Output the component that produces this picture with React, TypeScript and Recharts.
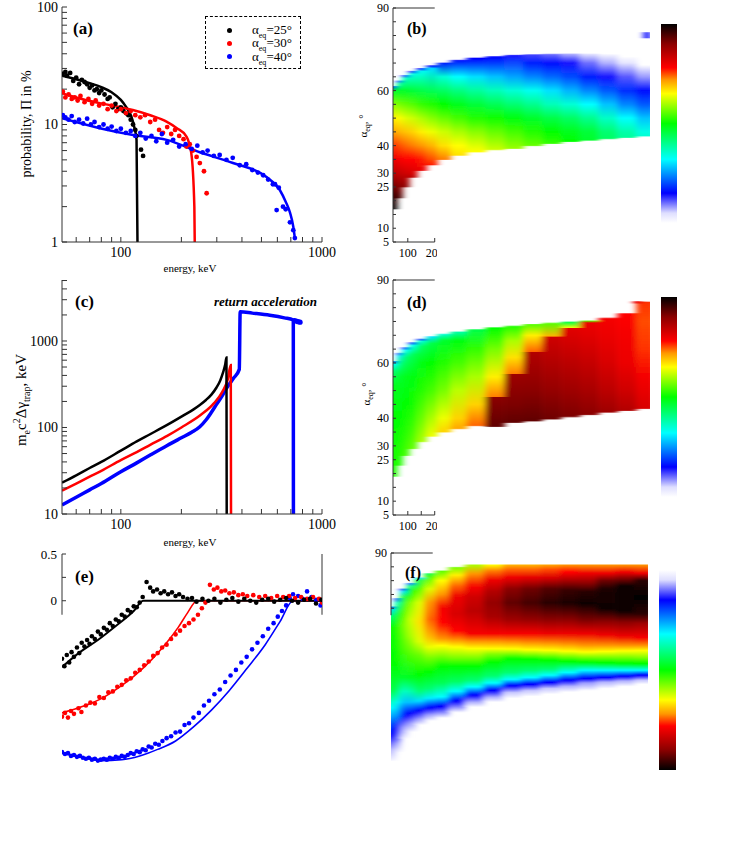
import React from "react";
import {
  ComposedChart,
  Line,
  Scatter,
  XAxis,
  YAxis,
  ReferenceArea,
  ReferenceLine,
} from "recharts";

const FONT = '"Liberation Serif", "Times New Roman", serif';
const AXIS = "#333";

// ---------- panel (a): probability vs energy ----------
const aBlackDots = [
  [51.5, 27], [53, 28], [54, 26], [56, 27.5], [58, 23.5], [60, 25], [62, 22], [64, 24], [66, 23], [68, 22],
  [70, 20.5], [72, 21.5], [74, 19.5], [76, 20], [78, 18.5], [80, 19.5], [83, 18], [86, 16.5], [88, 17],
  [91, 14], [94, 15], [97, 13.5], [100, 14], [103, 13], [106, 12.5], [109, 12], [112, 11], [115, 10],
  [118, 9], [119.5, 8], [126, 6.1], [129, 5.4],
];
const aRedDots = [
  [51.5, 19], [53, 17], [55, 18], [57, 16.5], [59, 17], [61, 16], [63, 17.5], [66, 15.5], [69, 16.5],
  [72, 15], [75, 16], [78, 14.5], [82, 15], [86, 13.5], [90, 14.5], [95, 13], [100, 13.5], [106, 12.5],
  [112, 13], [118, 12], [125, 11.5], [132, 12], [140, 10.5], [148, 11], [155, 9], [162, 8.5], [170, 9.5],
  [178, 8.3], [186, 9], [195, 8], [205, 7.5], [212, 6.5], [220, 6.8], [228, 6], [238, 5.3], [247, 4.7],
  [259, 4.0], [267, 2.6],
];
const aBlueDots = [
  [51.5, 12], [53, 11.5], [55, 11], [57, 11.8], [59, 10.5], [62, 11], [65, 10.2], [68, 11.2], [71, 10],
  [74, 10.5], [78, 9.5], [82, 10], [86, 9.2], [90, 9.6], [95, 8.8], [100, 9.2], [106, 8.5], [112, 8.8],
  [118, 8], [125, 8.5], [133, 7.6], [142, 8], [150, 7.2], [160, 8.3], [170, 7], [182, 7.4], [195, 6.5],
  [210, 6.8], [225, 6.2], [240, 6.6], [255, 5.8], [270, 6], [290, 5.4], [310, 5.5], [335, 5], [360, 5.2],
  [390, 4.5], [420, 4.6], [450, 4.1], [480, 3.9], [510, 3.7], [540, 3.4], [570, 3.1], [584, 3.1],
  [595, 1.87], [610, 2.9], [640, 2.0], [660, 1.9], [693, 1.47], [720, 1.26], [733, 1.08],
];
const aBlackLine = [
  [51, 26], [60, 24.3], [70, 22.5], [80, 20.8], [90, 18.8], [100, 16.2], [106, 14.2], [113, 11.6],
  [117, 9.3], [119.7, 7.4], [121, 1],
];
const aRedLine = [
  [51, 18.5], [60, 17], [78.6, 15.2], [100, 14], [114.7, 13.3], [140, 12], [168.7, 10.6], [190, 9.3],
  [212, 7.9], [224, 5.7], [232, 2], [233, 1],
];
const aBlueLine = [
  [51, 11.3], [78.6, 9.3], [115, 8.15], [169, 7.4], [247, 5.8], [361, 4.7], [530, 3.57], [617, 2.77],
  [660, 2.2], [694, 1.77], [720, 1.35], [733, 1.08],
];

// ---------- panel (c): trapping energy gain ----------
const cBlackLine = [
  [51, 23], [60, 28], [70, 34], [80, 40], [100, 54], [120, 69], [139, 83], [170, 107], [204, 137],
  [230, 162], [247, 182], [265, 208], [282, 240], [299, 290], [312, 350], [322, 430], [330, 530],
  [335, 646], [336, 10],
];
const cRedLine = [
  [51, 18.6], [60, 22.5], [70, 27], [80, 31.5], [100, 42], [120, 52], [140, 63], [170, 80], [200, 100],
  [250, 140], [290, 190], [320, 260], [340, 360], [352, 527], [353, 10],
];
const cBlueLine = [
  [51, 12.7], [60, 15.6], [70, 19], [80, 22.5], [100, 30.8], [120, 39], [140, 48], [170, 62], [200, 76],
  [225, 88], [247, 102], [265, 122], [282, 150], [299, 185], [320, 235], [335, 284], [363, 370],
  [388, 470], [392, 2180], [450, 2100], [550, 1980], [650, 1850], [720, 1750], [721, 10],
];
const cBlueTail = [[730, 1720], [745, 1700], [760, 1670], [778, 1650]];

// ---------- panel (e) ----------
const eBlackDots = [
  [0, -0.62], [8, -0.7], [16, -0.58], [24, -0.66], [32, -0.55], [40, -0.6], [50, -0.5], [58, -0.56],
  [66, -0.45], [75, -0.49], [84, -0.42], [92, -0.46], [100, -0.38], [110, -0.41], [120, -0.33],
  [130, -0.36], [140, -0.29], [150, -0.31], [160, -0.24], [170, -0.27], [180, -0.2], [190, -0.22],
  [200, -0.15], [210, -0.17], [220, -0.1], [230, -0.12], [240, -0.06], [250, -0.07], [260, -0.02],
  [270, 0.04], [283, 0.2], [295, 0.14], [305, 0.1], [318, 0.12], [330, 0.08], [342, 0.1], [355, 0.07],
  [368, 0.09], [380, 0.05], [392, 0.07], [405, 0.04], [420, 0.02], [435, 0.03], [450, -0.01],
  [470, 0.02], [490, 0], [510, 0.02], [530, -0.02], [550, 0.01], [570, 0.03], [590, -0.01], [610, 0.02],
  [630, 0], [650, -0.02], [670, 0.01], [690, 0.02], [710, -0.01], [730, 0.01], [750, 0.03], [770, 0],
  [790, -0.02], [810, 0.01], [830, 0.02], [850, -0.03], [868, 0.01],
];
const eRedDots = [
  [0, -1.24], [10, -1.2], [20, -1.25], [30, -1.18], [40, -1.21], [55, -1.15], [65, -1.19], [80, -1.12],
  [95, -1.09], [110, -1.1], [125, -1.03], [140, -1.04], [155, -0.98], [170, -0.97], [185, -0.92],
  [200, -0.9], [215, -0.85], [230, -0.83], [245, -0.77], [260, -0.74], [275, -0.69], [290, -0.65],
  [305, -0.59], [320, -0.56], [335, -0.5], [350, -0.47], [365, -0.41], [380, -0.36], [395, -0.32],
  [410, -0.27], [425, -0.24], [440, -0.2], [455, -0.15], [468, -0.08], [480, -0.02], [495, 0.17],
  [508, 0.12], [520, 0.14], [533, 0.1], [546, 0.11], [560, 0.08], [575, 0.09], [590, 0.06], [605, 0.07],
  [620, 0.05], [640, 0.06], [660, 0.04], [680, 0.05], [700, 0.03], [720, 0.05], [740, 0.04], [760, 0.05],
  [780, 0.03], [800, 0.04], [820, 0.02], [840, 0.04], [860, 0.02], [870, -0.02],
];
const eBlueDots = [
  [0, -1.62], [10, -1.64], [20, -1.63], [30, -1.66], [40, -1.65], [50, -1.67], [60, -1.66], [70, -1.68],
  [80, -1.69], [90, -1.68], [100, -1.7], [110, -1.69], [120, -1.71], [130, -1.7], [140, -1.69],
  [150, -1.7], [160, -1.68], [170, -1.69], [180, -1.67], [190, -1.68], [200, -1.66], [210, -1.67],
  [220, -1.65], [230, -1.63], [240, -1.64], [250, -1.61], [260, -1.62], [270, -1.59], [280, -1.6],
  [290, -1.56], [300, -1.57], [312, -1.53], [324, -1.54], [336, -1.5], [350, -1.47], [365, -1.45],
  [380, -1.41], [395, -1.4], [410, -1.33], [425, -1.31], [440, -1.25], [458, -1.2], [475, -1.12],
  [492, -1.07], [510, -1.0], [528, -0.95], [546, -0.87], [564, -0.8], [582, -0.74], [600, -0.66],
  [618, -0.6], [636, -0.52], [654, -0.45], [672, -0.38], [690, -0.3], [708, -0.24], [722, -0.17],
  [736, -0.11], [750, -0.05], [762, 0.03], [773, 0.07], [790, 0.05], [805, 0.02], [820, 0.1],
  [835, 0.04], [850, 0.01], [865, -0.05],
];
const eBlackLine = [[0, -0.71], [60, -0.55], [120, -0.42], [180, -0.27], [240, -0.11], [272, 0], [870, 0]];
const eRedLine = [
  [0, -1.2], [70, -1.13], [130, -1.05], [190, -0.93], [240, -0.81], [300, -0.63], [350, -0.45],
  [390, -0.28], [420, -0.13], [452, 0], [870, 0],
];
const eBlueLine = [
  [0, -1.63], [60, -1.67], [130, -1.71], [200, -1.7], [260, -1.66], [320, -1.59], [380, -1.5],
  [440, -1.35], [500, -1.17], [560, -0.96], [620, -0.72], [680, -0.47], [730, -0.22], [773, 0], [870, 0],
];

// ---------- heatmaps: column edges (keV) and per-column [angle, colour level] stops ----------
const hmEdges = [45, 60, 80, 105, 135, 170, 210, 260, 320, 390, 460, 530, 600, 670, 740, 810, 880, 950, 1000];

const bStops = [
  [[17, 1], [20, 0.97], [25, 0.92], [30, 0.85], [35, 0.8], [40, 0.76], [45, 0.71], [50, 0.66], [55, 0.58], [60, 0.47], [61.5, 0.18]],
  [[21, 0.95], [25, 0.9], [30, 0.84], [35, 0.79], [40, 0.75], [45, 0.7], [50, 0.65], [55, 0.57], [60, 0.47], [62.5, 0.38], [63.5, 0.16]],
  [[25, 0.9], [30, 0.83], [35, 0.78], [40, 0.74], [45, 0.69], [50, 0.63], [55, 0.56], [60, 0.47], [64.5, 0.36], [65.5, 0.15]],
  [[28.5, 0.85], [30, 0.82], [35, 0.78], [40, 0.73], [45, 0.68], [50, 0.62], [55, 0.55], [60, 0.46], [66, 0.34], [67, 0.15]],
  [[31, 0.8], [35, 0.77], [40, 0.72], [45, 0.66], [50, 0.6], [55, 0.53], [60, 0.45], [67, 0.33], [68, 0.15]],
  [[33, 0.77], [35, 0.75], [40, 0.7], [45, 0.64], [50, 0.58], [55, 0.52], [60, 0.44], [68, 0.3], [69, 0.15]],
  [[35, 0.73], [40, 0.67], [45, 0.62], [50, 0.56], [55, 0.5], [60, 0.43], [65, 0.35], [70, 0.17]],
  [[36.5, 0.67], [40, 0.65], [45, 0.6], [50, 0.54], [55, 0.48], [60, 0.41], [65, 0.32], [71, 0.16]],
  [[37.7, 0.65], [40, 0.63], [45, 0.58], [50, 0.52], [55, 0.46], [60, 0.39], [65, 0.3], [71.8, 0.15]],
  [[38.5, 0.62], [45, 0.56], [50, 0.51], [55, 0.44], [60, 0.37], [65, 0.28], [72.3, 0.15]],
  [[39, 0.59], [45, 0.54], [50, 0.49], [55, 0.42], [60, 0.35], [65, 0.26], [72.8, 0.14]],
  [[40, 0.56], [45, 0.52], [50, 0.47], [55, 0.4], [60, 0.33], [65, 0.24], [70, 0.17], [73, 0.12]],
  [[40.8, 0.53], [45, 0.5], [50, 0.45], [55, 0.37], [60, 0.3], [65, 0.22], [70, 0.16], [73.2, 0.1]],
  [[41.5, 0.5], [45, 0.48], [50, 0.43], [55, 0.35], [60, 0.27], [65, 0.2], [70, 0.14], [73.3, 0.07]],
  [[42, 0.47], [45, 0.46], [50, 0.4], [55, 0.32], [60, 0.24], [65, 0.17], [70, 0.1], [73.3, 0.04]],
  [[42.5, 0.43], [45, 0.42], [50, 0.36], [55, 0.28], [60, 0.21], [65, 0.14], [70, 0.07], [73, 0.02]],
  [[43, 0.39], [45, 0.38], [50, 0.32], [55, 0.24], [60, 0.18], [65, 0.11], [70, 0.04], [72, 0.01]],
  [[43.5, 0.35], [45, 0.34], [50, 0.28], [55, 0.21], [60, 0.16], [65, 0.08], [69, 0.01]],
];
const bSpots = [[977, 1000, 79, 81.2, 0.15]];

const dStops = [
  [[19, 0.52], [40, 0.5], [52, 0.48], [57, 0.42], [59.5, 0.32], [60.5, 0.16]],
  [[23, 0.52], [40, 0.5], [55, 0.47], [60, 0.4], [62.5, 0.3], [63.5, 0.16]],
  [[26.5, 0.54], [35, 0.52], [45, 0.5], [55, 0.48], [62, 0.42], [64.5, 0.32], [65.5, 0.16]],
  [[29, 0.56], [35, 0.54], [45, 0.51], [55, 0.49], [63, 0.44], [66.3, 0.33], [67.3, 0.17]],
  [[31.5, 0.6], [40, 0.56], [50, 0.52], [60, 0.49], [66, 0.43], [67.8, 0.35], [68.6, 0.17]],
  [[33.5, 0.64], [40, 0.6], [50, 0.54], [60, 0.5], [67, 0.45], [69.5, 0.3]],
  [[35, 0.68], [40, 0.64], [50, 0.57], [60, 0.52], [68, 0.47], [70.4, 0.35]],
  [[36.2, 0.71], [40, 0.68], [50, 0.61], [60, 0.54], [68, 0.49], [71.2, 0.38]],
  [[37.3, 0.74], [45, 0.68], [55, 0.6], [65, 0.53], [72, 0.45]],
  [[37, 0.93], [47.5, 0.9], [47.6, 0.73], [55, 0.66], [65, 0.57], [72.7, 0.5]],
  [[38.5, 0.93], [45, 0.91], [56, 0.88], [56.1, 0.73], [62, 0.67], [68, 0.6], [73.3, 0.52]],
  [[39, 0.93], [50, 0.9], [64, 0.86], [64.1, 0.74], [70, 0.66], [73.9, 0.55]],
  [[39.7, 0.92], [50, 0.89], [60, 0.86], [69.5, 0.83], [69.6, 0.7], [74.4, 0.55]],
  [[40.5, 0.91], [50, 0.88], [60, 0.85], [72.5, 0.81], [72.6, 0.65], [74.8, 0.45]],
  [[41.3, 0.9], [50, 0.87], [60, 0.84], [70, 0.81], [74.5, 0.8], [75.2, 0.55]],
  [[42.2, 0.88], [50, 0.85], [60, 0.82], [70, 0.8], [76.2, 0.79]],
  [[42.8, 0.86], [50, 0.83], [60, 0.8], [70, 0.79], [77.8, 0.78]],
  [[43.5, 0.82], [55, 0.79], [65, 0.76], [75, 0.75], [82, 0.76]],
];
const dSpots = [[937, 970, 81.5, 82.3, 0.8]];

const fStops = [
  [[15, 0.02], [19, 0.07], [24, 0.15], [28, 0.2], [34, 0.32], [40, 0.45], [50, 0.5], [63, 0.5], [67, 0.42], [69.5, 0.3], [70.5, 0.16]],
  [[18, 0.02], [21, 0.07], [26, 0.15], [31, 0.25], [36, 0.33], [41, 0.44], [48, 0.5], [62, 0.52], [68, 0.47], [72, 0.36], [73.5, 0.16]],
  [[23, 0.02], [27, 0.08], [31, 0.15], [36, 0.28], [40, 0.36], [45, 0.47], [55, 0.54], [64, 0.57], [70, 0.53], [74, 0.45], [76, 0.3], [77, 0.16]],
  [[25.5, 0.02], [28.5, 0.08], [32, 0.15], [36, 0.28], [40, 0.38], [45, 0.48], [52, 0.54], [60, 0.6], [66, 0.62], [72, 0.58], [76, 0.5], [78, 0.4], [79, 0.22]],
  [[28, 0.02], [30, 0.08], [33, 0.15], [36.5, 0.3], [40, 0.42], [46, 0.5], [53, 0.56], [58, 0.63], [65, 0.67], [72, 0.63], [77, 0.55], [80, 0.45], [81, 0.3]],
  [[29.5, 0.02], [31.5, 0.08], [34, 0.15], [37.5, 0.31], [41, 0.42], [47, 0.5], [52, 0.57], [56, 0.64], [60, 0.7], [66, 0.74], [72, 0.72], [77, 0.63], [81, 0.55], [82.5, 0.45]],
  [[30.5, 0.02], [32, 0.08], [34.5, 0.15], [38, 0.32], [43, 0.44], [49, 0.5], [52.5, 0.57], [56.5, 0.65], [59, 0.72], [65, 0.78], [70, 0.79], [75, 0.72], [80, 0.65], [83.5, 0.55]],
  [[32.5, 0.02], [34, 0.08], [36.5, 0.15], [40, 0.32], [43.5, 0.43], [49, 0.5], [52, 0.57], [56, 0.65], [58.5, 0.72], [62, 0.78], [68, 0.82], [74, 0.8], [78, 0.74], [82, 0.66], [84.8, 0.57]],
  [[34.5, 0.02], [36, 0.07], [38.6, 0.15], [41.6, 0.32], [44, 0.42], [49, 0.5], [52, 0.57], [55.5, 0.65], [58, 0.72], [61, 0.79], [69, 0.85], [74, 0.83], [77.6, 0.79], [82.5, 0.72], [85.7, 0.6]],
  [[36.3, 0.02], [37.8, 0.07], [40.3, 0.15], [43, 0.32], [45.5, 0.42], [50.5, 0.5], [53.5, 0.58], [55.4, 0.65], [58, 0.72], [61, 0.79], [67, 0.87], [72, 0.89], [76, 0.86], [80, 0.8], [83.5, 0.73], [85.7, 0.65]],
  [[37.8, 0.02], [39.5, 0.06], [42, 0.15], [44.3, 0.32], [46.8, 0.42], [51.7, 0.5], [55.3, 0.65], [57.8, 0.72], [61, 0.79], [66, 0.88], [72, 0.93], [77, 0.9], [81, 0.8], [84, 0.74], [85.7, 0.7]],
  [[38.5, 0.02], [40.2, 0.06], [42.5, 0.15], [45, 0.32], [47.5, 0.42], [51.5, 0.5], [55, 0.65], [57.5, 0.72], [61, 0.79], [66, 0.89], [72, 0.95], [77, 0.92], [81, 0.81], [84, 0.74], [85.7, 0.7]],
  [[39.3, 0.02], [41, 0.06], [43.2, 0.15], [45.8, 0.32], [48, 0.42], [51.2, 0.5], [54.8, 0.65], [57.3, 0.72], [61, 0.8], [66, 0.9], [72, 0.97], [77, 0.94], [81, 0.82], [84, 0.75], [85.7, 0.71]],
  [[40, 0.02], [41.8, 0.07], [44, 0.15], [46.8, 0.32], [49, 0.42], [50.8, 0.5], [54.5, 0.65], [57, 0.72], [61, 0.8], [66, 0.9], [72, 0.98], [76.5, 0.96], [80, 0.87], [83, 0.78], [85.7, 0.72]],
  [[40.5, 0.02], [43, 0.08], [44.6, 0.15], [47.6, 0.32], [50.5, 0.5], [54.2, 0.65], [56.6, 0.72], [61, 0.8], [65.7, 0.91], [71.8, 0.99], [76, 0.97], [79, 0.9], [82.6, 0.8], [85.7, 0.72]],
  [[41.3, 0.02], [43.3, 0.07], [45, 0.15], [47.6, 0.32], [50.3, 0.5], [54.4, 0.65], [56.6, 0.72], [60.5, 0.8], [65.3, 0.9], [70, 0.99], [77, 0.98], [80, 0.92], [82.6, 0.8], [85.7, 0.72]],
  [[42, 0.02], [43.7, 0.07], [45.4, 0.15], [47.6, 0.32], [50.1, 0.5], [52.5, 0.58], [54.6, 0.65], [56.5, 0.72], [60, 0.8], [65, 0.9], [69, 0.99], [78, 0.99], [81, 0.9], [83, 0.8], [85.7, 0.72]],
  [[42.8, 0.02], [44, 0.06], [45.8, 0.15], [47.6, 0.32], [50, 0.5], [52.3, 0.58], [54.7, 0.65], [56.5, 0.72], [59.5, 0.79], [64.6, 0.88], [68, 0.97], [74, 1], [80, 0.97], [82.6, 0.8], [85.7, 0.72]],
];

// ---------- ticks ----------
const logXTicks = [60, 70, 80, 90, 100, 200, 300, 400, 500, 600, 700, 800, 900, 1000];
const aYTicks = [1, 2, 3, 4, 5, 6, 7, 8, 9, 10, 20, 30, 40, 50, 60, 70, 80, 90, 100];
const cYTicks = [10, 20, 30, 40, 50, 60, 70, 80, 90, 100, 200, 300, 400, 500, 600, 700, 800, 900, 1000, 2000, 3000, 4000, 5000];
const eTopTicks = [100, 200, 300, 400, 500, 600, 700, 800];
const eYTicks = [0, 0.25, 0.5];
const hmYTicks = [5, 10, 15, 20, 25, 30, 35, 40, 45, 50, 55, 60, 65, 70, 75, 80, 85, 90];
const hmYLabels = [5, 10, 25, 30, 40, 60, 90];
const hmXLabels = [100, 200];

// jet-like colour scale: white -> blue -> cyan -> green -> yellow -> red -> black
const CMAP: [number, number[]][] = [
  [0, [255, 255, 255]],
  [0.05, [222, 222, 255]],
  [0.15, [0, 0, 255]],
  [0.32, [0, 255, 255]],
  [0.5, [0, 255, 0]],
  [0.65, [255, 255, 0]],
  [0.72, [255, 150, 0]],
  [0.78, [255, 0, 0]],
  [0.9, [139, 0, 0]],
  [1, [0, 0, 0]],
];

function cmap(t: number) {
  for (let i = 1; i < CMAP.length; i++) {
    if (t <= CMAP[i][0]) {
      const [t0, c0] = CMAP[i - 1];
      const [t1, c1] = CMAP[i];
      const f = (t - t0) / (t1 - t0);
      return `rgb(${c0.map((c, k) => Math.round(c + (c1[k] - c) * f)).join(",")})`;
    }
  }
  return "rgb(0,0,0)";
}

const pts = (arr: number[][]) => arr.map(([x, y]) => ({ x, y }));
const decade = (v: number) => ([1, 10, 100, 1000].includes(v) ? String(v) : "");
const tickStyle = { fill: "#000", fontSize: 14, fontFamily: FONT };
const hmTickStyle = { fill: "#000", fontSize: 12, fontFamily: FONT };

const dot = (color: string, r = 2.4) => (p: any) => <circle cx={p.cx} cy={p.cy} r={r} fill={color} />;

// x tick label clipped at the edge of the cut-off axis frame
function CutTick(props: any) {
  const { x, y, payload, limit } = props;
  if (!hmXLabels.includes(payload.value)) return <g />;
  return (
    <svg x={0} y={y - 2} width={limit} height={18} overflow="hidden">
      <text x={x} y={2} dy="0.8em" textAnchor="middle" fill="#000" fontSize={12} fontFamily={FONT}>
        {payload.value}
      </text>
    </svg>
  );
}

// layer "cells" draws the coloured columns (blurred sideways by the page), layer "axes" the partial frame
function Heatmap({
  layer,
  id,
  stops,
  spots = [],
  width,
  height,
  margin,
  bottomTicks,
  topTicks,
  showBottom,
  leftFrom,
  yTicks,
  yLabels,
}: any) {
  const cells = layer === "cells";
  const last = stops.length - 1;
  return (
    <ComposedChart width={width} height={height} margin={margin}>
      {cells && (
        <defs>
          {stops.map((col: number[][], i: number) => {
            const lo = col[0][0];
            const hi = col[col.length - 1][0];
            return (
              <linearGradient key={i} id={`${id}${i}`} x1="0" y1="0" x2="0" y2="1">
                {col
                  .slice()
                  .reverse()
                  .map(([a, t], j) => (
                    <stop key={j} offset={(hi - a) / (hi - lo)} stopColor={cmap(t)} />
                  ))}
              </linearGradient>
            );
          })}
        </defs>
      )}
      <XAxis
        dataKey="x"
        type="number"
        domain={[45, 1000]}
        allowDataOverflow
        hide={!showBottom}
        ticks={bottomTicks}
        interval={0}
        axisLine={false}
        tickLine={!cells}
        tickSize={-4}
        tickMargin={9}
        height={20}
        stroke={AXIS}
        tick={cells ? false : <CutTick limit={437 - 340} />}
      />
      <XAxis
        xAxisId="top"
        orientation="top"
        type="number"
        domain={[45, 1000]}
        allowDataOverflow
        ticks={topTicks}
        interval={0}
        axisLine={false}
        tickLine={!cells}
        tick={false}
        tickSize={-4}
        height={0}
        stroke={AXIS}
      />
      <YAxis
        dataKey="y"
        type="number"
        domain={[5, 90]}
        allowDataOverflow
        ticks={yTicks}
        interval={0}
        tickFormatter={(v: number) => (yLabels.includes(v) ? String(v) : "")}
        axisLine={false}
        tickLine={!cells}
        tickSize={-3}
        tickMargin={7}
        width={40}
        stroke={AXIS}
        tick={cells ? false : hmTickStyle}
      />
      {/* end columns run past the frame so the sideways blur does not fade them; the page clips them back */}
      {cells &&
        stops.map((col: number[][], i: number) => (
          <ReferenceArea
            key={i}
            x1={i === 0 ? hmEdges[0] - 20 : hmEdges[i]}
            x2={i === last ? hmEdges[i + 1] + 20 : hmEdges[i + 1]}
            y1={col[0][0]}
            y2={col[col.length - 1][0]}
            fill={`url(#${id}${i})`}
            fillOpacity={1}
            stroke={`url(#${id}${i})`}
            strokeWidth={0.8}
            ifOverflow="visible"
          />
        ))}
      {cells &&
        spots.map((s: number[], i: number) => (
          <ReferenceArea
            key={`s${i}`}
            x1={s[0]}
            x2={s[1]}
            y1={s[2]}
            y2={s[3]}
            fill={cmap(s[4])}
            fillOpacity={1}
            stroke="none"
            ifOverflow="visible"
          />
        ))}
      {!cells && <ReferenceLine segment={[{ x: 45, y: leftFrom }, { x: 45, y: 90 }]} stroke={AXIS} />}
      {!cells && <ReferenceLine segment={[{ x: 45, y: 90 }, { x: 200, y: 90 }]} stroke={AXIS} />}
      {!cells && showBottom && <ReferenceLine segment={[{ x: 45, y: 5 }, { x: 200, y: 5 }]} stroke={AXIS} />}
    </ComposedChart>
  );
}

function HeatPanel({ left, top, ...rest }: any) {
  const { margin } = rest;
  const clip = `inset(0px ${margin.right}px 0px ${margin.left + 40}px)`;
  return (
    <>
      <div style={abs(left, top, { filter: "url(#hblur)", clipPath: clip })}>
        <Heatmap layer="cells" {...rest} />
      </div>
      <div style={abs(left, top)}>
        <Heatmap layer="axes" {...rest} />
      </div>
    </>
  );
}

function colorbar(dir: string) {
  return `linear-gradient(${dir}, ${CMAP.map(([t]) => `${cmap(t)} ${t * 100}%`).join(", ")})`;
}

const abs = (left: number, top: number, extra: React.CSSProperties = {}): React.CSSProperties => ({
  position: "absolute",
  left,
  top,
  ...extra,
});

function Rotated({ x, y, size, children }: any) {
  return (
    <div
      style={abs(x, y, {
        transform: "translate(-50%, -50%) rotate(-90deg)",
        whiteSpace: "nowrap",
        fontSize: size,
        lineHeight: 1,
      })}
    >
      {children}
    </div>
  );
}

const panelLetter: React.CSSProperties = { fontSize: 17, fontWeight: "bold", lineHeight: 1 };
const subStyle: React.CSSProperties = { fontSize: 8, lineHeight: 0 };

export default function App() {
  return (
    <div style={{ position: "absolute", left: 0, top: 0, width: 747, height: 855, background: "#fff", fontFamily: FONT }}>
      <svg width={0} height={0} style={{ position: "absolute" }}>
        <defs>
          <filter id="hblur" x="-5%" y="-5%" width="110%" height="110%">
            <feGaussianBlur stdDeviation="3 0" />
          </filter>
        </defs>
      </svg>

      {/* (a) */}
      <div style={abs(0, 0)}>
        <ComposedChart width={340} height={262} margin={{ top: 7, right: 18, bottom: 0, left: 22 }}>
          <XAxis dataKey="x" type="number" scale="log" domain={[51, 1000]} allowDataOverflow ticks={logXTicks} interval={0}
            tickFormatter={decade} tickSize={-5} tickMargin={10} height={20} stroke={AXIS} tick={tickStyle} />
          <XAxis xAxisId="top" orientation="top" type="number" scale="log" domain={[51, 1000]} allowDataOverflow
            ticks={logXTicks} interval={0} tick={false} tickSize={-5} height={0} stroke={AXIS} />
          <YAxis dataKey="y" type="number" scale="log" domain={[1, 100]} allowDataOverflow ticks={aYTicks} interval={0}
            tickFormatter={decade} tickSize={-5} tickMargin={9} width={40} stroke={AXIS} tick={tickStyle} />
          <YAxis yAxisId="right" orientation="right" type="number" scale="log" domain={[1, 100]} allowDataOverflow
            ticks={aYTicks} interval={0} tick={false} tickSize={-5} width={0} stroke={AXIS} />
          <Scatter data={pts(aBlackDots)} shape={dot("#000")} isAnimationActive={false} />
          <Scatter data={pts(aRedDots)} shape={dot("#f00")} isAnimationActive={false} />
          <Scatter data={pts(aBlueDots)} shape={dot("#00f")} isAnimationActive={false} />
          <Line data={pts(aBlackLine)} dataKey="y" type="monotone" stroke="#000" strokeWidth={2.5} dot={false} isAnimationActive={false} />
          <Line data={pts(aRedLine)} dataKey="y" type="monotone" stroke="#f00" strokeWidth={2.5} dot={false} isAnimationActive={false} />
          <Line data={pts(aBlueLine)} dataKey="y" type="monotone" stroke="#00f" strokeWidth={2.5} dot={false} isAnimationActive={false} />
        </ComposedChart>
      </div>
      <div style={abs(73, 20, panelLetter)}>(a)</div>
      <div style={abs(205, 16, { width: 94, height: 51, border: "1.5px dashed #000", fontSize: 13 })}>
        {[["#000", "25"], ["#f00", "30"], ["#00f", "40"]].map(([c, v], i) => (
          <div key={v} style={abs(0, 7 + i * 13.3, { width: 94, height: 12, lineHeight: "12px" })}>
            <span style={abs(21, 3.5, { width: 5, height: 5, borderRadius: 3, background: c })} />
            <span style={abs(46, 0, { whiteSpace: "nowrap" })}>
              α<sub style={subStyle}>eq</sub>={v}°
            </span>
          </div>
        ))}
      </div>
      <Rotated x={27} y={124} size={14}>probability, Π in %</Rotated>
      <div style={abs(130, 263, { width: 120, textAlign: "center", fontSize: 11, lineHeight: 1 })}>energy, keV</div>

      {/* (c) */}
      <div style={abs(0, 270)}>
        <ComposedChart width={340} height={264} margin={{ top: 10, right: 18, bottom: 0, left: 22 }}>
          <XAxis dataKey="x" type="number" scale="log" domain={[51, 1000]} allowDataOverflow ticks={logXTicks} interval={0}
            tickFormatter={decade} tickSize={-5} tickMargin={10} height={20} stroke={AXIS} tick={tickStyle} />
          <XAxis xAxisId="top" orientation="top" type="number" scale="log" domain={[51, 1000]} allowDataOverflow
            ticks={logXTicks} interval={0} tick={false} tickSize={-5} height={0} stroke={AXIS} />
          <YAxis dataKey="y" type="number" scale="log" domain={[10, 5070]} allowDataOverflow ticks={cYTicks} interval={0}
            tickFormatter={decade} tickSize={-5} tickMargin={9} width={40} stroke={AXIS} tick={tickStyle} />
          <YAxis yAxisId="right" orientation="right" type="number" scale="log" domain={[10, 5070]} allowDataOverflow
            ticks={cYTicks} interval={0} tick={false} tickSize={-5} width={0} stroke={AXIS} />
          <Line data={pts(cBlueLine)} dataKey="y" type="monotone" stroke="#00f" strokeWidth={3.5} dot={false} isAnimationActive={false} />
          <Scatter data={pts(cBlueTail)} shape={dot("#00f", 2.6)} isAnimationActive={false} />
          <Line data={pts(cRedLine)} dataKey="y" type="monotone" stroke="#f00" strokeWidth={2.5} dot={false} isAnimationActive={false} />
          <Line data={pts(cBlackLine)} dataKey="y" type="monotone" stroke="#000" strokeWidth={2.5} dot={false} isAnimationActive={false} />
        </ComposedChart>
      </div>
      <div style={abs(75, 293, panelLetter)}>(c)</div>
      <div style={abs(214, 295, { fontSize: 13, fontWeight: "bold", fontStyle: "italic", lineHeight: 1, whiteSpace: "nowrap" })}>
        return acceleration
      </div>
      <Rotated x={22} y={400} size={15}>
        m<sub style={{ fontSize: 10 }}>e</sub>c<sup style={{ fontSize: 10 }}>2</sup>Δγ<sub style={{ fontSize: 10 }}>trap</sub>, keV
      </Rotated>
      <div style={abs(130, 537, { width: 120, textAlign: "center", fontSize: 11, lineHeight: 1 })}>energy, keV</div>

      {/* (e) */}
      <div style={abs(0, 540)}>
        <ComposedChart width={340} height={229} margin={{ top: 14, right: 18, bottom: 0, left: 22 }}>
          <XAxis dataKey="x" type="number" domain={[0, 870]} allowDataOverflow hide />
          <XAxis xAxisId="top" orientation="top" type="number" domain={[0, 870]} allowDataOverflow ticks={eTopTicks}
            interval={0} tick={false} tickSize={-4} height={0} stroke={AXIS} />
          <YAxis dataKey="y" type="number" domain={[-1.8, 0.5]} allowDataOverflow ticks={eYTicks} interval={0}
            tickFormatter={(v: number) => (v === 0.25 ? "" : String(v))} axisLine={false} tickSize={-4} tickMargin={9}
            width={40} stroke={AXIS} tick={{ ...tickStyle, fontSize: 13 }} />
          <YAxis yAxisId="right" orientation="right" type="number" domain={[-1.8, 0.5]} allowDataOverflow ticks={eYTicks}
            interval={0} tick={false} axisLine={false} tickSize={-4} width={0} stroke={AXIS} />
          <ReferenceLine segment={[{ x: 0, y: -0.15 }, { x: 0, y: 0.5 }]} stroke={AXIS} />
          <ReferenceLine segment={[{ x: 870, y: -0.15 }, { x: 870, y: 0.5 }]} stroke={AXIS} />
          <Line data={pts(eBlueLine)} dataKey="y" type="monotone" stroke="#00f" strokeWidth={1.6} dot={false} isAnimationActive={false} />
          <Line data={pts(eRedLine)} dataKey="y" type="monotone" stroke="#f00" strokeWidth={1.6} dot={false} isAnimationActive={false} />
          <Scatter data={pts(eBlueDots)} shape={dot("#00f", 2.3)} isAnimationActive={false} />
          <Scatter data={pts(eRedDots)} shape={dot("#f00", 2.3)} isAnimationActive={false} />
          <Line data={pts(eBlackLine)} dataKey="y" type="monotone" stroke="#000" strokeWidth={2} dot={false} isAnimationActive={false} />
          <Scatter data={pts(eBlackDots)} shape={dot("#000", 2.3)} isAnimationActive={false} />
        </ComposedChart>
      </div>
      <div style={abs(75, 568, panelLetter)}>(e)</div>

      {/* (b) */}
      <HeatPanel left={340} top={0} id="gb" stops={bStops} spots={bSpots} width={320} height={262}
        margin={{ top: 8, right: 10, bottom: 0, left: 13 }} bottomTicks={[100, 200]} topTicks={[200]} showBottom
        leftFrom={5} yTicks={hmYTicks} yLabels={hmYLabels} />
      <div style={abs(407, 21, { ...panelLetter, fontSize: 16 })}>(b)</div>
      <Rotated x={363} y={126} size={11}>
        α<sub style={subStyle}>eq</sub>, °
      </Rotated>
      <div style={abs(661, 24, { width: 16, height: 199, background: colorbar("to top") })} />

      {/* (d) */}
      <HeatPanel left={340} top={270} id="gd" stops={dStops} spots={dSpots} width={320} height={265}
        margin={{ top: 10, right: 10, bottom: 0, left: 13 }} bottomTicks={[100, 150, 200]} topTicks={[200]} showBottom
        leftFrom={5} yTicks={hmYTicks} yLabels={hmYLabels} />
      <div style={abs(407, 295, { ...panelLetter, fontSize: 16 })}>(d)</div>
      <Rotated x={366} y={394} size={11}>
        α<sub style={subStyle}>eq</sub>, °
      </Rotated>
      <div style={abs(661, 297, { width: 16, height: 200, background: colorbar("to top") })} />

      {/* (f) */}
      <HeatPanel left={340} top={540} id="gf" stops={fStops} width={318} height={248}
        margin={{ top: 13, right: 10, bottom: 0, left: 11 }} bottomTicks={[]} topTicks={[100, 150, 200]}
        showBottom={false} leftFrom={67.5} yTicks={[70, 75, 80, 85, 90]} yLabels={[90]} />
      <div style={abs(405, 565, { ...panelLetter, fontSize: 16 })}>(f)</div>
      <div style={abs(659, 570, { width: 17, height: 200, background: colorbar("to bottom") })} />
    </div>
  );
}
